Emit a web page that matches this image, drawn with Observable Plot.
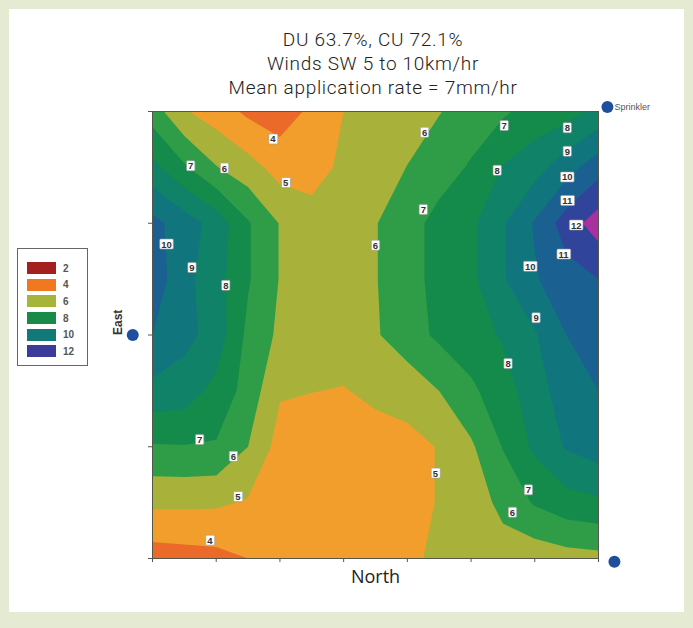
<!DOCTYPE html>
<html>
<head>
<meta charset="utf-8">
<script src="https://cdn.jsdelivr.net/npm/d3@7"></script>
<script src="https://cdn.jsdelivr.net/npm/@observablehq/plot@0.6"></script>
<style>
  html, body { margin: 0; padding: 0; background: #e5ebd3; }
  #page { position: relative; width: 693px; height: 628px; overflow: hidden; }
  #panel { position: absolute; left: 9px; top: 9px; width: 675px; height: 603px; background: #fff; }
  #title { position: absolute; left: 123px; width: 500px; top: 28px; text-align: center;
           font-family: Roboto, "Liberation Sans", sans-serif; font-weight: 300; font-size: 19px;
           letter-spacing: 0.7px; line-height: 24px; color: #222; }
  #chart { position: absolute; left: 0; top: 0; }
  #legend { position: absolute; left: 17px; top: 248px; width: 71px; height: 118px;
            border: 1px solid #666; background: #fff; box-sizing: border-box; padding-top: 11px; }
  .item { display: flex; align-items: center; height: 16.6px; }
  .sw { width: 29px; height: 12px; margin-left: 9px; }
  .lab { margin-left: 7px; font: bold 10px "Liberation Sans", sans-serif; color: #555; }
</style>
</head>
<body>
<div id="page">
  <div id="panel"></div>
  <div id="title"></div>
  <div id="legend"></div>
  <div id="chart"></div>
</div>
<script>
// Title lines
const titleLines = ["DU 63.7%, CU 72.1%", "Winds SW 5 to 10km/hr", "Mean application rate = 7mm/hr"];

// Measurement grid: columns along North (0–7), rows along East (4 at top, 0 at bottom)
const xPositions = [0, 0.5, 1, 1.5, 2, 2.5, 3, 3.5, 4, 4.5, 5, 5.5, 6, 6.5, 7];
const yPositions = [4, 3.5, 3, 2.5, 2, 1.5, 1, 0.5, 0];

// Application rate (mm/hr), one row per yPositions entry
const row4   = [6.5, 5.1, 4.5, 3.8, 3.5, 4.2, 5.0, 5.4, 5.6, 5.95, 6.5, 6.85, 7.4, 7.6, 8.3];
const row3_5 = [8.3, 7.15, 6.05, 5.4, 4.6, 4.6, 5.2, 5.6, 6.02, 6.6, 7.1, 8.05, 8.6, 9.6, 10.6];
const row3   = [10.3, 9.5, 8.6, 7.1, 5.95, 5.4, 5.5, 5.95, 6.65, 7.3, 7.8, 8.9, 10.1, 11.5, 12.5];
const row2_5 = [10.6, 9.3, 8.4, 7.1, 5.95, 5.6, 5.6, 5.95, 6.65, 7.3, 7.8, 8.9, 9.9, 10.6, 11.0];
const row2   = [10.0, 9.3, 8.6, 6.75, 5.8, 5.5, 5.5, 5.9, 6.55, 7.2, 7.6, 8.1, 8.9, 10.0, 10.5];
const row1_5 = [8.7, 8.5, 7.7, 6.6, 5.1, 5.02, 4.95, 5.2, 5.4, 6.0, 6.8, 7.6, 8.5, 9.6, 10.0];
const row1   = [6.9, 6.95, 6.9, 6.0, 4.6, 4.4, 4.5, 4.6, 4.7, 5.05, 5.85, 7.05, 8.2, 9.1, 9.5];
const row0_5 = [5.2, 5.2, 5.15, 4.9, 4.4, 4.3, 4.4, 4.5, 4.7, 5.05, 5.4, 6.3, 7.1, 7.6, 7.8];
const row0   = [3.5, 3.6, 3.7, 4.0, 4.2, 4.3, 4.4, 4.5, 4.8, 5.2, 5.3, 5.5, 5.4, 5.6, 5.7];
const rateRows = [row4, row3_5, row3, row2_5, row2, row1_5, row1, row0_5, row0];

// Contour bands: lower bound of each band and its fill
const bandLows = [3, 4, 5, 6, 7, 8, 9, 10, 11, 12];
const bandColors = ["#eb6a2a", "#f19e2c", "#a8b23a", "#2f9d48", "#148b4a",
                    "#0f8268", "#11757e", "#1a6090", "#30449c", "#a8309f"];

// Legend
const legendValues = [2, 4, 6, 8, 10, 12];
const legendColors = ["#a3201f", "#f07820", "#a6b43a", "#198a48", "#137878", "#3b3b9b"];

// Contour value labels
const contourLabels = [
  {x: 1.89, y: 3.75, v: "4"}, {x: 2.09, y: 3.36, v: "5"}, {x: 0.60, y: 3.51, v: "7"},
  {x: 1.13, y: 3.49, v: "6"}, {x: 0.22, y: 2.81, v: "10"}, {x: 0.62, y: 2.60, v: "9"},
  {x: 1.15, y: 2.44, v: "8"}, {x: 3.50, y: 2.80, v: "6"}, {x: 4.27, y: 3.81, v: "6"},
  {x: 5.52, y: 3.87, v: "7"}, {x: 6.51, y: 3.85, v: "8"}, {x: 6.51, y: 3.64, v: "9"},
  {x: 6.51, y: 3.41, v: "10"}, {x: 6.51, y: 3.20, v: "11"}, {x: 6.65, y: 2.98, v: "12"},
  {x: 5.41, y: 3.47, v: "8"}, {x: 4.25, y: 3.12, v: "7"}, {x: 6.45, y: 2.72, v: "11"},
  {x: 5.93, y: 2.61, v: "10"}, {x: 6.02, y: 2.15, v: "9"}, {x: 5.58, y: 1.74, v: "8"},
  {x: 0.74, y: 1.06, v: "7"}, {x: 1.27, y: 0.91, v: "6"}, {x: 1.34, y: 0.55, v: "5"},
  {x: 0.90, y: 0.16, v: "4"}, {x: 4.44, y: 0.76, v: "5"}, {x: 5.90, y: 0.61, v: "7"},
  {x: 5.65, y: 0.41, v: "6"}
];

// Sprinkler heads around the test area
const sprinklers = [
  {x: -0.31, y: 2.0, name: ""},
  {x: 7.14, y: 4.04, name: "Sprinkler"},
  {x: 7.25, y: -0.03, name: ""}
];

const xTicks = d3.range(0, 8);
const yTicks = d3.range(0, 5);
const labelFont = "Liberation Sans, Arial, sans-serif";

// Title
d3.select("#title").selectAll("div").data(titleLines).join("div").text(d => d);

// Legend
const items = d3.select("#legend").selectAll("div").data(legendValues).join("div").attr("class", "item");
items.append("div").attr("class", "sw").style("background", (d, i) => legendColors[i]);
items.append("div").attr("class", "lab").text(d => d);

// Grid geometry: samples sit at cell centres of the raster
const dx = xPositions[1] - xPositions[0];
const dy = yPositions[0] - yPositions[1];

const chart = Plot.plot({
  width: 693,
  height: 628,
  marginLeft: 152,
  marginRight: 95,
  marginTop: 111,
  marginBottom: 70,
  style: {background: "transparent", overflow: "visible"},
  x: {domain: [0, 7]},
  y: {domain: [0, 4]},
  color: {type: "ordinal", domain: bandLows, range: bandColors},
  marks: [
    Plot.contour(rateRows.flat(), {
      width: xPositions.length,
      height: yPositions.length,
      x1: xPositions[0] - dx / 2,
      x2: xPositions[xPositions.length - 1] + dx / 2,
      y1: yPositions[0] + dy / 2,
      y2: yPositions[yPositions.length - 1] - dy / 2,
      fill: Plot.identity,
      thresholds: bandLows,
      clip: true
    }),
    Plot.frame({stroke: "#55554a"}),
    Plot.axisX({ticks: xTicks, tickSize: 4, tickFormat: () => "", label: null, stroke: "#555"}),
    Plot.axisY({ticks: yTicks, tickSize: 4, tickFormat: () => "", label: null, stroke: "#555"}),
    Plot.text(contourLabels, {
      x: "x", y: "y", text: "v", fontSize: 9.5, fontWeight: "bold",
      fill: "#333", fontFamily: labelFont
    }),
    Plot.dot(sprinklers, {x: "x", y: "y", r: 6, fill: "#1d4f9e"}),
    Plot.text(sprinklers, {x: "x", y: "y", text: "name", dx: 7, textAnchor: "start",
      fontSize: 9, fill: "#555", fontFamily: "Liberation Sans"}),
    Plot.text(["North"], {frameAnchor: "bottom", dy: 24, fontSize: 18,
      fontFamily: "Open Sans", fill: "#222"}),
    Plot.text(["East"], {frameAnchor: "left", dx: -34, rotate: -90, fontSize: 12,
      fontWeight: "bold", fontFamily: "Liberation Sans", fill: "#333"})
  ]
});
document.getElementById("chart").append(chart);

// White boxes behind the contour value labels
const labelTexts = Array.from(chart.querySelectorAll("g")).filter(g => g.getAttribute("font-family") === labelFont)
  .flatMap(g => Array.from(g.querySelectorAll("text")));
labelTexts.forEach(t => {
  const b = t.getBBox();
  const r = document.createElementNS("http://www.w3.org/2000/svg", "rect");
  r.setAttribute("x", b.x - 1.5);
  r.setAttribute("y", b.y + 0.5);
  r.setAttribute("width", b.width + 3);
  r.setAttribute("height", b.height - 1);
  r.setAttribute("rx", 1);
  r.setAttribute("fill", "white");
  r.setAttribute("stroke", "#999");
  r.setAttribute("stroke-width", 0.6);
  const tr = t.getAttribute("transform");
  if (tr) r.setAttribute("transform", tr);
  t.parentNode.insertBefore(r, t);
});
</script>
</body>
</html>
